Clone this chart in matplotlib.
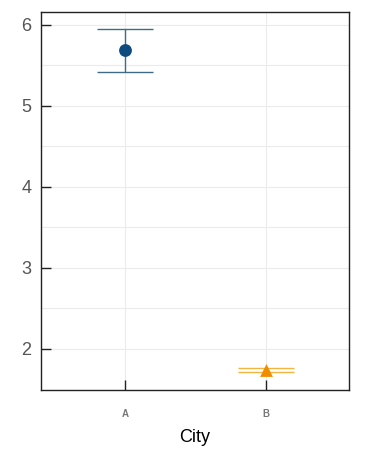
import numpy as np
import matplotlib.pyplot as plt

plt.rcParams['font.family'] = ['Liberation Sans', 'DejaVu Sans']

# data
cities = ["A", "B"]
means = [5.69, 1.74]
lower = [5.42, 1.71]
upper = [5.95, 1.76]
marker_colors = ["#0e4c7f", "#f08c00"]
bar_colors = ["#3f6b87", "#f2b540"]
markers = ["o", "^"]

fig = plt.figure(figsize=(3.67, 4.5), dpi=100)
ax = fig.add_axes([0.1117, 0.1333, 0.8393, 0.84])

x = np.arange(len(cities))
for i in range(len(cities)):
    yerr = [[means[i] - lower[i]], [upper[i] - means[i]]]
    ax.errorbar(x[i], means[i], yerr=yerr, fmt="none", ecolor=bar_colors[i],
                elinewidth=1, capsize=20, capthick=1, zorder=2)
    ax.scatter(x[i], means[i], marker=markers[i], s=85, color=marker_colors[i],
               zorder=3, linewidths=0)

ax.set_xlim(-0.596, 1.59)
ax.set_ylim(1.49, 6.16)
ax.set_xticks(x)
ax.set_xticklabels(cities, fontsize=7, fontweight="bold", color="#777777")
ax.set_yticks([2, 3, 4, 5, 6])
ax.set_yticks([2.5, 3.5, 4.5, 5.5], minor=True)
ax.tick_params(axis="y", labelsize=13, labelcolor="#555555", direction="in",
               length=7, width=1, color="#222222", pad=7)
ax.tick_params(axis="x", direction="in", length=7, width=1, color="#222222", pad=14)
ax.tick_params(which="minor", length=0)

ax.grid(True, which="both", color="#ebebeb", linewidth=0.8, zorder=0)
ax.set_axisbelow(True)
for s in ax.spines.values():
    s.set_color("#222222")
    s.set_linewidth(1)

ax.set_xlabel("City", fontsize=13, color="black", labelpad=7)

fig.savefig("out.png", dpi=100)
